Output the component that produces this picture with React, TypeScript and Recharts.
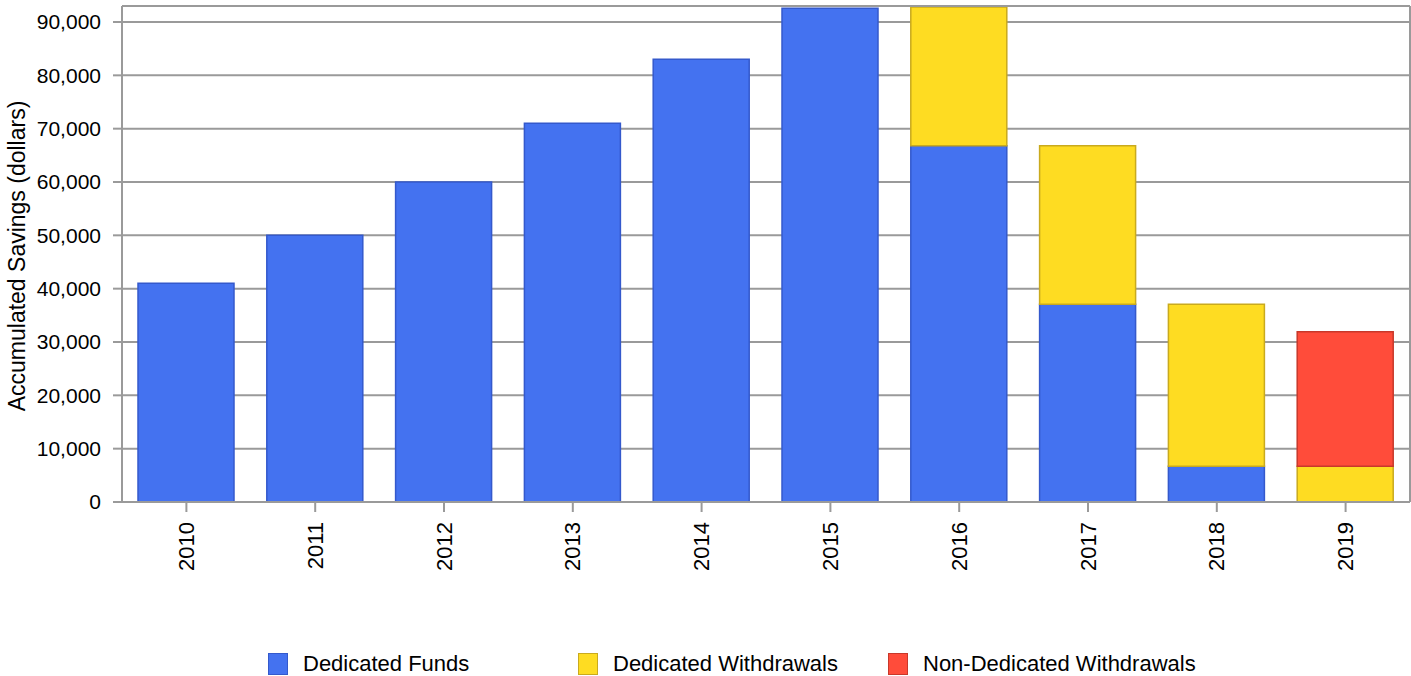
import React from 'react'
import { BarChart, Bar, XAxis, YAxis, CartesianGrid, Legend, ReferenceLine } from 'recharts'

const years = ['2010', '2011', '2012', '2013', '2014', '2015', '2016', '2017', '2018', '2019']
const dedicatedFunds = [41000, 50000, 60000, 71000, 83000, 92600, 66800, 37100, 6700, 0]
const dedicatedWithdrawals = [0, 0, 0, 0, 0, 0, 26000, 29700, 30400, 6700]
const nonDedicatedWithdrawals = [0, 0, 0, 0, 0, 0, 0, 0, 0, 25200]
const yTicks = [0, 10000, 20000, 30000, 40000, 50000, 60000, 70000, 80000, 90000]

const series = [
  { key: 'funds', name: 'Dedicated Funds', fill: '#4472F0', stroke: '#3459CC' },
  { key: 'withdrawals', name: 'Dedicated Withdrawals', fill: '#FEDC22', stroke: '#C9AA1E' },
  { key: 'nonDedicated', name: 'Non-Dedicated Withdrawals', fill: '#FF4C3A', stroke: '#C8382A' },
]

const data = years.map((year, i) => ({
  year,
  funds: dedicatedFunds[i],
  withdrawals: dedicatedWithdrawals[i],
  nonDedicated: nonDedicatedWithdrawals[i],
}))

const font = 'Arial, "Liberation Sans", sans-serif'
const gridColor = '#9a9a9a'

const YearTick = (props: any) => {
  const { x, y, payload } = props
  return (
    <text
      x={x}
      y={y}
      transform={`rotate(-90, ${x}, ${y})`}
      textAnchor="end"
      dominantBaseline="central"
      fontSize={22}
      fontFamily={font}
      fill="#000"
    >
      {payload.value}
    </text>
  )
}

const AxisTitle = (props: any) => {
  const { viewBox } = props
  const x = viewBox.x + 17
  const y = viewBox.y + viewBox.height / 2 + 2
  return (
    <text
      x={x}
      y={y}
      transform={`rotate(-90, ${x}, ${y})`}
      textAnchor="middle"
      dominantBaseline="central"
      fontSize={23}
      fontFamily={font}
      fill="#000"
    >
      Accumulated Savings (dollars)
    </text>
  )
}

const LegendContent = () => (
  <div style={{ height: 30, display: 'flex', paddingLeft: 268, fontFamily: font }}>
    {series.map((s) => (
      <div key={s.key} style={{ width: 310, display: 'flex', alignItems: 'center', marginTop: 7, height: 22 }}>
        <div
          style={{
            width: 20,
            height: 22,
            background: s.fill,
            border: `1px solid ${s.stroke}`,
            boxSizing: 'border-box',
            marginRight: 15,
          }}
        />
        <span style={{ fontSize: 22, color: '#000' }}>{s.name}</span>
      </div>
    ))}
  </div>
)

export default function App() {
  return (
    <div style={{ position: 'absolute', left: 0, top: 0, background: '#fff' }}>
      <BarChart width={1411} height={676} data={data} margin={{ top: 6, right: 0, bottom: 0, left: 0 }} barSize={96}>
        <CartesianGrid vertical={false} stroke={gridColor} strokeWidth={2} />
        <XAxis
          dataKey="year"
          height={144}
          tick={<YearTick />}
          tickSize={10}
          tickMargin={10}
          tickLine={{ stroke: gridColor, strokeWidth: 2 }}
          axisLine={{ stroke: gridColor, strokeWidth: 2 }}
          interval={0}
        />
        <YAxis
          width={122}
          domain={[0, 93000]}
          ticks={yTicks}
          allowDataOverflow
          tickFormatter={(v: number) => v.toLocaleString('en-US')}
          tick={{ fontSize: 21, fontFamily: font, fill: '#000' }}
          tickSize={9}
          tickMargin={12}
          tickLine={{ stroke: gridColor, strokeWidth: 2 }}
          axisLine={{ stroke: gridColor, strokeWidth: 2 }}
          label={<AxisTitle />}
        />
        <YAxis
          yAxisId="right"
          orientation="right"
          width={1}
          tick={false}
          tickLine={false}
          axisLine={{ stroke: gridColor, strokeWidth: 2 }}
        />
        <ReferenceLine y={93000} stroke={gridColor} strokeWidth={2} />
        {series.map((s) => (
          <Bar
            key={s.key}
            dataKey={s.key}
            name={s.name}
            stackId="a"
            fill={s.fill}
            stroke={s.stroke}
            strokeWidth={1.5}
            isAnimationActive={false}
          />
        ))}
        <Legend verticalAlign="bottom" height={30} content={<LegendContent />} />
      </BarChart>
    </div>
  )
}
